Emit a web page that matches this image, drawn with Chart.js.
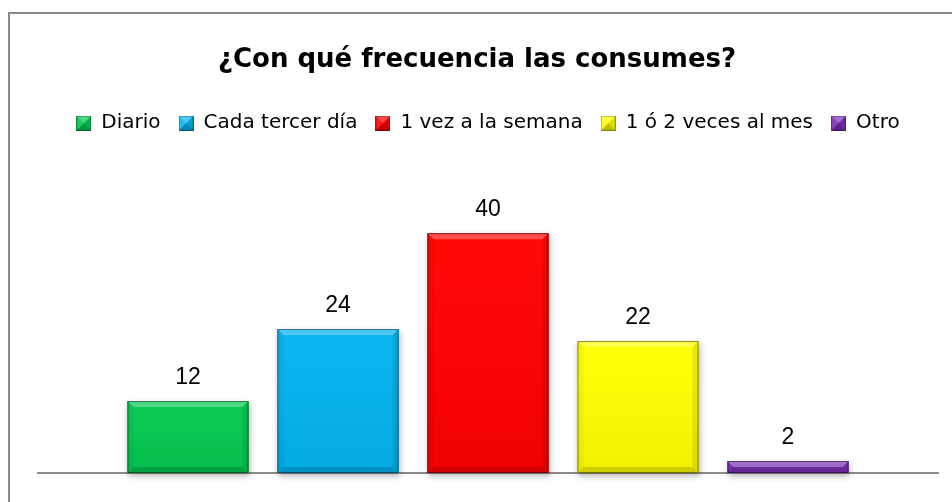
<!DOCTYPE html>
<html>
<head>
<meta charset="utf-8">
<script src="https://cdn.jsdelivr.net/npm/chart.js@4.4.0/dist/chart.umd.min.js"></script>
<style>
  html, body { margin: 0; padding: 0; background: #fff; overflow: hidden; }
  .frame { position: absolute; left: 8px; top: 12px; width: 980px; height: 520px; border: 2px solid #898989; }
  #chart { position: absolute; left: 0; top: 0; }
</style>
</head>
<body>
<div class="frame"></div>
<canvas id="chart" width="952" height="502"></canvas>
<script>

// Data
var title = '¿Con qué frecuencia las consumes?';
var categories = ['Diario', 'Cada tercer día', '1 vez a la semana', '1 ó 2 veces al mes', 'Otro'];
var values = [12, 24, 40, 22, 2];
var colors = ['#04c850', '#03b3f0', '#ff0000', '#ffff00', '#7c2fb6'];

// little pyramid squares for the legend
function marker(color) {
    var c = document.createElement('canvas');
    c.width = 15; c.height = 15;
    var g = c.getContext('2d');
    g.fillStyle = color;
    g.fillRect(0, 0, 15, 15);
    var tri = function(pts, fill) {
        g.beginPath();
        g.moveTo(pts[0], pts[1]);
        for (var i = 2; i < pts.length; i += 2) g.lineTo(pts[i], pts[i + 1]);
        g.closePath();
        g.fillStyle = fill;
        g.fill();
    };
    tri([0, 0, 15, 0, 7.5, 7.5], 'rgba(255,255,255,0.3)');
    tri([0, 0, 7.5, 7.5, 0, 15], 'rgba(255,255,255,0.1)');
    tri([15, 0, 15, 15, 7.5, 7.5], 'rgba(0,0,0,0.12)');
    tri([0, 15, 15, 15, 7.5, 7.5], 'rgba(0,0,0,0.25)');
    g.strokeStyle = 'rgba(0,0,0,0.3)';
    g.strokeRect(0.5, 0.5, 14, 14);
    return c;
}
var markers = colors.map(marker);

// soft shadow under bars
var barShadow = {
    id: 'barShadow',
    beforeDatasetsDraw: function(chart) {
        var ctx = chart.ctx;
        chart.getDatasetMeta(0).data.forEach(function(bar, i) {
            ctx.save();
            ctx.shadowColor = 'rgba(0,0,0,0.3)';
            ctx.shadowBlur = 6;
            ctx.shadowOffsetX = 1;
            ctx.shadowOffsetY = 3;
            ctx.fillStyle = colors[i];
            ctx.fillRect(bar.x - bar.width / 2, bar.y, bar.width, bar.base - bar.y);
            ctx.restore();
        });
    }
};

// bevel + value labels
var barBevel = {
    id: 'barBevel',
    afterDatasetsDraw: function(chart) {
        var ctx = chart.ctx;
        chart.getDatasetMeta(0).data.forEach(function(bar, i) {
            var l = bar.x - bar.width / 2, r = bar.x + bar.width / 2;
            var t = bar.y, b = bar.base;
            var s = Math.min(6, (b - t) / 2);
            var poly = function(pts, fill) {
                ctx.beginPath();
                ctx.moveTo(pts[0], pts[1]);
                for (var k = 2; k < pts.length; k += 2) ctx.lineTo(pts[k], pts[k + 1]);
                ctx.closePath();
                ctx.fillStyle = fill;
                ctx.fill();
            };
            ctx.save();
            var grad = ctx.createLinearGradient(0, t, 0, b);
            grad.addColorStop(0, 'rgba(255,255,255,0.03)');
            grad.addColorStop(1, 'rgba(0,0,0,0.06)');
            ctx.fillStyle = grad;
            ctx.fillRect(l, t, r - l, b - t);
            poly([l, t, r, t, r - s, t + s, l + s, t + s], 'rgba(255,255,255,0.28)');
            poly([l, t, l + s, t + s, l + s, b - s, l, b], 'rgba(0,0,0,0.04)');
            poly([r, t, r, b, r - s, b - s, r - s, t + s], 'rgba(0,0,0,0.09)');
            poly([l, b, r, b, r - s, b - s, l + s, b - s], 'rgba(0,0,0,0.14)');
            ctx.strokeStyle = 'rgba(0,0,0,0.45)';
            ctx.lineWidth = 1;
            ctx.strokeRect(l + 0.5, t + 0.5, r - l - 1, b - t - 1);

            ctx.fillStyle = '#000';
            ctx.font = '23px "Liberation Sans", Arial, sans-serif';
            ctx.textAlign = 'center';
            ctx.textBaseline = 'middle';
            ctx.fillText(values[i], bar.x, t - 23);
            ctx.restore();
        });
    }
};

// center title on the chart frame, not the plot
var titleFrame = {
    id: 'titleFrame',
    afterLayout: function(chart) {
        chart.titleBlock.left = 8;
        chart.titleBlock.right = 946;
    }
};

var chart = new Chart(document.getElementById('chart'), {
    type: 'bar',
    data: {
        datasets: [{
            label: title,
            data: values.map(function(v, i) { return { x: i + 1, y: v }; }),
            backgroundColor: colors,
            borderWidth: 0,
            barPercentage: 0.807,
            categoryPercentage: 1
        }]
    },
    options: {
        responsive: false,
        devicePixelRatio: 1,
        animation: false,
        layout: { padding: { left: 38, right: 14, top: 0, bottom: 29 } },
        plugins: {
            title: {
                display: true,
                text: title,
                color: '#000',
                font: { family: '"DejaVu Sans", sans-serif', size: 26, weight: 'bold' },
                padding: { top: 45, bottom: 19 }
            },
            legend: {
                display: true,
                labels: {
                    usePointStyle: true,
                    boxWidth: 15,
                    boxHeight: 15,
                    padding: 18,
                    color: '#000',
                    font: { family: '"DejaVu Sans", sans-serif', size: 20 },
                    generateLabels: function() {
                        return categories.map(function(c, i) {
                            return { text: c, pointStyle: markers[i], fillStyle: colors[i], strokeStyle: colors[i], lineWidth: 0, hidden: false, index: i, fontColor: '#000' };
                        });
                    }
                }
            },
            tooltip: { enabled: false }
        },
        scales: {
            x: {
                type: 'linear',
                min: 0,
                max: 6,
                offset: false,
                ticks: { display: false, stepSize: 1 },
                grid: { display: false, drawTicks: false },
                border: { display: true, color: '#8c8c8c', width: 2 }
            },
            y: {
                display: false,
                min: 0,
                max: 55
            }
        }
    },
    plugins: [barShadow, barBevel, titleFrame]
});
</script>
</body>
</html>
